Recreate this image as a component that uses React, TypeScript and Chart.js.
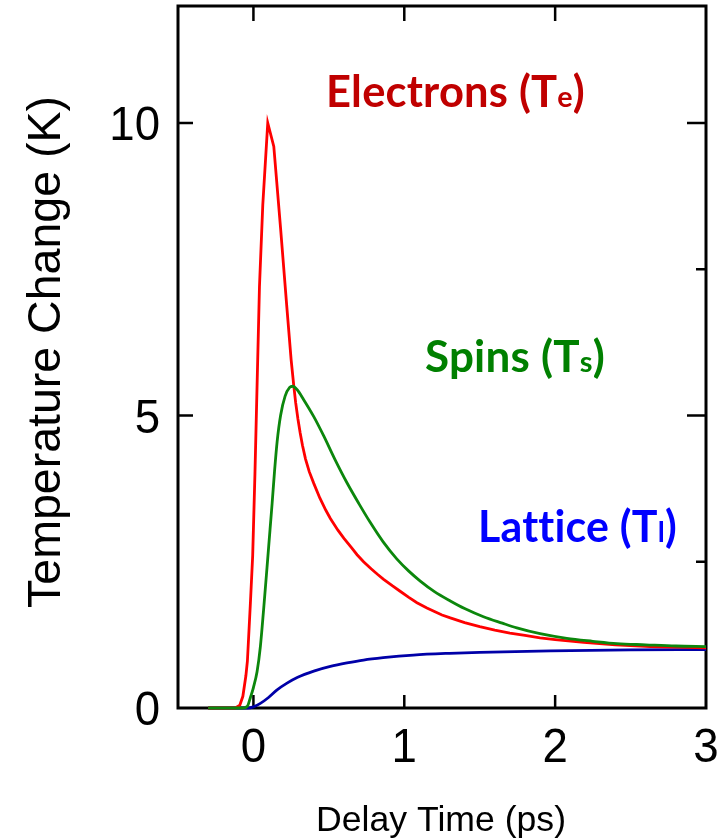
import { useEffect, useRef } from "react";
import { Chart, registerables } from "chart.js";

Chart.register(...registerables);

// Delay time (ps) and temperature change (K) for the three subsystems
const electronX = [-0.3, -0.12, -0.09, -0.07, -0.05, -0.04, -0.02, -0.005, 0.01, 0.025, 0.04, 0.062, 0.095, 0.135, 0.18, 0.22, 0.25, 0.267, 0.28, 0.295, 0.31, 0.325, 0.345, 0.37, 0.4, 0.44, 0.48, 0.51, 0.56, 0.6, 0.65, 0.687, 0.73, 0.78, 0.82, 0.863, 0.92, 0.97, 1.03, 1.084, 1.15, 1.2, 1.25, 1.305, 1.4, 1.5, 1.6, 1.7, 1.8, 1.9, 2.0, 2.19, 2.4, 2.63, 2.8, 3.0];
const electronY = [0, 0, 0.05, 0.2, 0.55, 0.8, 1.8, 2.6, 4.0, 5.6, 7.2, 8.6, 10.0, 9.6, 8.2, 6.9, 5.95, 5.52, 5.22, 4.94, 4.7, 4.49, 4.26, 4.04, 3.84, 3.59, 3.38, 3.24, 3.04, 2.9, 2.74, 2.62, 2.5, 2.38, 2.29, 2.2, 2.09, 2.0, 1.89, 1.8, 1.71, 1.65, 1.59, 1.54, 1.46, 1.39, 1.33, 1.28, 1.24, 1.2, 1.17, 1.12, 1.08, 1.05, 1.04, 1.03];

const spinX = [-0.3, -0.07, -0.04, -0.02, 0.0, 0.024, 0.046, 0.068, 0.09, 0.11, 0.124, 0.14, 0.157, 0.18, 0.21, 0.24, 0.26, 0.29, 0.333, 0.4, 0.466, 0.54, 0.62, 0.7, 0.775, 0.86, 0.95, 1.03, 1.106, 1.2, 1.305, 1.4, 1.525, 1.65, 1.746, 1.9, 2.077, 2.25, 2.41, 2.6, 2.8, 3.0];
const spinY = [0, 0, 0.03, 0.18, 0.35, 0.62, 1.05, 1.7, 2.4, 3.05, 3.5, 4.05, 4.55, 5.0, 5.33, 5.48, 5.5, 5.44, 5.27, 4.98, 4.65, 4.25, 3.85, 3.49, 3.17, 2.84, 2.55, 2.34, 2.17, 1.99, 1.83, 1.7, 1.56, 1.45, 1.37, 1.27, 1.19, 1.14, 1.1, 1.08, 1.06, 1.05];

const latticeX = [-0.3, -0.04, 0.0, 0.046, 0.1, 0.157, 0.22, 0.29, 0.4, 0.51, 0.62, 0.73, 0.86, 1.06, 1.3, 1.5, 1.97, 2.5, 3.0];
const latticeY = [0, 0, 0.02, 0.08, 0.18, 0.31, 0.42, 0.52, 0.63, 0.71, 0.77, 0.82, 0.86, 0.905, 0.935, 0.952, 0.978, 0.993, 1.0];

// Axis ticks
const xTicks = [0, 1, 2, 3];
const xTopTicks = [0, 1, 2];
const yTicks = [0, 5, 10];
const yRightMajor = [5, 10];
const yRightMinor = [2.5, 7.5];

const xTitle = "Delay Time (ps)";
const yTitle = "Temperature Change (K)";

type Part = { text: string; scale: number };
const seriesLabels: { parts: Part[]; color: string; left: number; right: number; baseline: number }[] = [
  { parts: [{ text: "Electrons (T", scale: 1 }, { text: "e", scale: 0.66 }, { text: ")", scale: 1 }], color: "#C00000", left: 326, right: 585, baseline: 107 },
  { parts: [{ text: "Spins (T", scale: 1 }, { text: "s", scale: 0.66 }, { text: ")", scale: 1 }], color: "#008000", left: 425, right: 605, baseline: 372 },
  { parts: [{ text: "Lattice (T", scale: 1 }, { text: "l", scale: 0.66 }, { text: ")", scale: 1 }], color: "#0000FF", left: 478, right: 677, baseline: 542 },
];

const SANS = "'Liberation Sans', Arial, sans-serif";
const LABEL_FONT = "Lato, 'Open Sans', sans-serif";

const framePlugin = {
  id: "frame",
  beforeDatasetsDraw(chart: any) {
    const { ctx, chartArea, scales } = chart;
    const { left, right, top, bottom } = chartArea;
    ctx.save();
    ctx.strokeStyle = "#000";
    ctx.lineWidth = 3;
    ctx.strokeRect(left, top, right - left, bottom - top);
    ctx.lineWidth = 2.5;
    ctx.beginPath();
    for (const v of xTicks) {
      const px = scales.x.getPixelForValue(v);
      if (px > left + 2 && px < right - 2) {
        ctx.moveTo(px, bottom);
        ctx.lineTo(px, bottom - 13);
      }
    }
    for (const v of xTopTicks) {
      const px = scales.x.getPixelForValue(v);
      ctx.moveTo(px, top);
      ctx.lineTo(px, top + 15);
    }
    for (const v of yTicks) {
      const py = scales.y.getPixelForValue(v);
      if (py < bottom - 2) {
        ctx.moveTo(left, py);
        ctx.lineTo(left + 15, py);
      }
    }
    for (const v of yRightMajor) {
      const py = scales.y.getPixelForValue(v);
      ctx.moveTo(right, py);
      ctx.lineTo(right - 19, py);
    }
    for (const v of yRightMinor) {
      const py = scales.y.getPixelForValue(v);
      ctx.moveTo(right, py);
      ctx.lineTo(right - 10, py);
    }
    ctx.stroke();
    ctx.restore();
  },
};

function drawScaled(ctx: CanvasRenderingContext2D, text: string, x: number, y: number, align: CanvasTextAlign, sx: number, sy: number) {
  ctx.save();
  ctx.translate(x, y);
  ctx.scale(sx, sy);
  ctx.textAlign = align;
  ctx.textBaseline = "alphabetic";
  ctx.fillText(text, 0, 0);
  ctx.restore();
}

const textPlugin = {
  id: "texts",
  afterDraw(chart: any) {
    const { ctx, chartArea, scales } = chart;
    ctx.save();
    ctx.fillStyle = "#000";

    // tick labels
    const tickSize = 48;
    ctx.font = `${tickSize}px ${SANS}`;
    const tsx = 0.95;
    for (const v of yTicks) {
      const py = scales.y.getPixelForValue(v);
      drawScaled(ctx, String(v), 160, py + tickSize * 0.358, "right", tsx, 1);
    }
    for (const v of xTicks) {
      const px = scales.x.getPixelForValue(v);
      drawScaled(ctx, String(v), px, 745 + tickSize * 0.358, "center", tsx, 1);
    }

    // axis titles
    const xs = 35;
    ctx.font = `${xs}px ${SANS}`;
    const xw = ctx.measureText(xTitle).width;
    drawScaled(ctx, xTitle, (chartArea.left + chartArea.right) / 2 - 1, 831, "center", 250 / xw, 1);

    const ys = 46;
    ctx.font = `${ys}px ${SANS}`;
    const yw = ctx.measureText(yTitle).width;
    ctx.save();
    ctx.translate(60, 352);
    ctx.rotate(-Math.PI / 2);
    ctx.scale(512 / yw, 1);
    ctx.textAlign = "center";
    ctx.textBaseline = "alphabetic";
    ctx.fillText(yTitle, 0, 0);
    ctx.restore();

    // series labels (ligatures off so "tt" stays two letters)
    const c: any = ctx;
    c.textRendering = "optimizeSpeed";
    c.letterSpacing = "0.2px";
    const base = 43;
    for (const lab of seriesLabels) {
      let total = 0;
      for (const p of lab.parts) {
        ctx.font = `bold ${base * p.scale}px ${LABEL_FONT}`;
        total += ctx.measureText(p.text).width;
      }
      const sx = (lab.right - lab.left) / total;
      ctx.fillStyle = lab.color;
      let cx = lab.left;
      for (const p of lab.parts) {
        ctx.font = `bold ${base * p.scale}px ${LABEL_FONT}`;
        const w = ctx.measureText(p.text).width;
        drawScaled(ctx, p.text, cx, lab.baseline, "left", sx, 1);
        cx += w * sx;
      }
    }
    ctx.restore();
  },
};

export default function App() {
  const ref = useRef<HTMLCanvasElement>(null);
  useEffect(() => {
    const canvas = ref.current;
    if (!canvas) return;
    const pts = (xs: number[], ys: number[]) => xs.map((x, i) => ({ x, y: ys[i] }));
    const chart = new Chart(canvas, {
      type: "line",
      data: {
        datasets: [
          { label: "Spins", data: pts(spinX, spinY), borderColor: "#0C870C", borderWidth: 2.8, pointRadius: 0, cubicInterpolationMode: "monotone", clip: 6 } as any,
          { label: "Electrons", data: pts(electronX, electronY), borderColor: "#FF0000", borderWidth: 2.8, pointRadius: 0, tension: 0, clip: 6 } as any,
          { label: "Lattice", data: pts(latticeX, latticeY), borderColor: "#0000A8", borderWidth: 2.8, pointRadius: 0, cubicInterpolationMode: "monotone", clip: 6 } as any,
        ],
      },
      options: {
        responsive: false,
        animation: false,
        devicePixelRatio: 1,
        events: [],
        layout: { padding: { left: 178, right: 22, top: 6, bottom: 132 } },
        scales: {
          x: { type: "linear", min: -0.5, max: 3, display: false },
          y: { type: "linear", min: 0, max: 12, display: false },
        },
        plugins: { legend: { display: false }, tooltip: { enabled: false } },
      },
      plugins: [framePlugin, textPlugin],
    });
    return () => chart.destroy();
  }, []);
  return (
    <div style={{ position: "absolute", left: 0, top: 0, width: 728, height: 840, background: "#fff" }}>
      <canvas ref={ref} width={728} height={840} style={{ display: "block", width: 728, height: 840 }} />
    </div>
  );
}
